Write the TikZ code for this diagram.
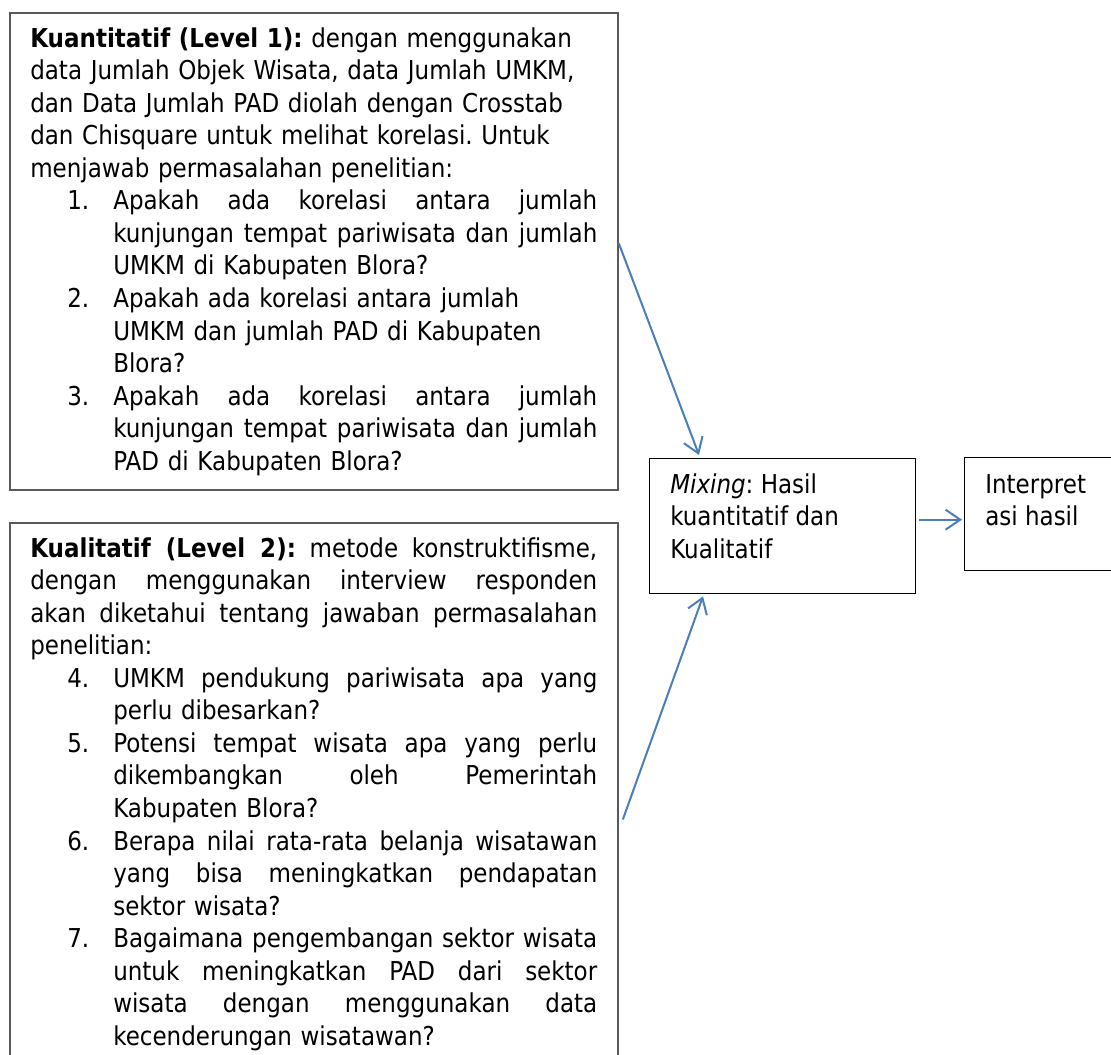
\documentclass[tikz,border=0pt]{standalone}
\usepackage{fontspec}
\setmainfont{DejaVu Sans}[FakeStretch=0.885]
\usetikzlibrary{arrows.meta, calc, positioning}

\definecolor{framegray}{HTML}{595959}
\definecolor{flowblue}{HTML}{4A7EBB}

\newcommand{\topstrut}{\rule{0pt}{15pt}}
\newcommand{\gluefix}{\spaceskip=0pt\xspaceskip=0pt\relax}
\newcommand{\rl}[1]{#1\par}
\newcommand{\jl}[1]{\makebox[\linewidth][s]{\gluefix#1}\par}
\newcommand{\numj}[2]{\hspace*{27.75pt}\makebox[34.5pt][l]{#1}\makebox[363pt][s]{\gluefix#2}\par}
\newcommand{\numr}[2]{\hspace*{27.75pt}\makebox[34.5pt][l]{#1}#2\par}
\newcommand{\contj}[1]{\hspace*{62.25pt}\makebox[363pt][s]{\gluefix#1}\par}
\newcommand{\contr}[1]{\hspace*{62.25pt}#1\par}

\begin{document}
\begin{tikzpicture}[x=0.75pt, y=-0.75pt]
    \tikzset{
        frame_box/.style={draw=framegray, line width=1.4pt, inner sep=0pt, anchor=north west},
        result_box/.style={draw=black, line width=1pt, inner sep=0pt, anchor=north west},
        body_text/.style={inner sep=0pt, anchor=north west, align=left,
            font=\fontsize{19.5pt}{24.4pt}\selectfont\frenchspacing},
        flow_arrow/.style={-{Straight Barb[length=11pt, width=15pt]}, flowblue, line width=1.5pt}
    }
    \useasboundingbox (0,0) rectangle (1111,1055);

    % level 1
    \node[frame_box, minimum width=456pt, minimum height=357.75pt] (kuan) at (9,12) {};
    \node[body_text, text width=425.25pt] (kuan_text) at (30,27) {%
        \topstrut\rl{\textbf{Kuantitatif (Level 1):} dengan menggunakan}
        \rl{data Jumlah Objek Wisata, data Jumlah UMKM,}
        \rl{dan Data Jumlah PAD diolah dengan Crosstab}
        \rl{dan Chisquare untuk melihat korelasi. Untuk}
        \rl{menjawab permasalahan penelitian:}
        \numj{1.}{Apakah ada korelasi antara jumlah}
        \contj{kunjungan tempat pariwisata dan jumlah}
        \contr{UMKM di Kabupaten Blora?}
        \numr{2.}{Apakah ada korelasi antara jumlah}
        \contr{UMKM dan jumlah PAD di Kabupaten}
        \contr{Blora?}
        \numj{3.}{Apakah ada korelasi antara jumlah}
        \contj{kunjungan tempat pariwisata dan jumlah}
        \contr{PAD di Kabupaten Blora?}};

    % level 2
    \node[frame_box, minimum width=456pt, minimum height=414.75pt] (kual) at (9,522) {};
    \node[body_text, text width=425.25pt] (kual_text) at (30,537) {%
        \topstrut\jl{\textbf{Kualitatif (Level 2):} metode konstruktifisme,}
        \jl{dengan menggunakan interview responden}
        \jl{akan diketahui tentang jawaban permasalahan}
        \rl{penelitian:}
        \numj{4.}{UMKM pendukung pariwisata apa yang}
        \contr{perlu dibesarkan?}
        \numj{5.}{Potensi tempat wisata apa yang perlu}
        \contj{dikembangkan oleh Pemerintah}
        \contr{Kabupaten Blora?}
        \numj{6.}{Berapa nilai rata-rata belanja wisatawan}
        \contj{yang bisa meningkatkan pendapatan}
        \contr{sektor wisata?}
        \numj{7.}{Bagaimana pengembangan sektor wisata}
        \contj{untuk meningkatkan PAD dari sektor}
        \contj{wisata dengan menggunakan data}
        \contr{kecenderungan wisatawan?}};

    % mixing and result
    \node[result_box, minimum width=199.5pt, minimum height=101.25pt] (mix) at (649,458) {};
    \node[body_text] (mix_text) at (670,473)
        {\topstrut\textit{Mixing}: Hasil\\kuantitatif dan\\Kualitatif};
    \node[result_box, minimum width=112.5pt, minimum height=84.75pt] (interp) at (964,457) {};
    \node[body_text] (interp_text) at (985,473) {\topstrut Interpret\\asi hasil};

    \draw[flow_arrow] ($(kuan.east)+(0,-8)$) -- ($(mix.north west)+(50,-3)$);
    \draw[flow_arrow] ($(kual.east)+(4,20)$) -- ($(mix.south west)+(54,2)$);
    \draw[flow_arrow] ($(mix.east)+(3,-6.5)$) -- ($(interp.west)+(-2,5.5)$);
\end{tikzpicture}
\end{document}
